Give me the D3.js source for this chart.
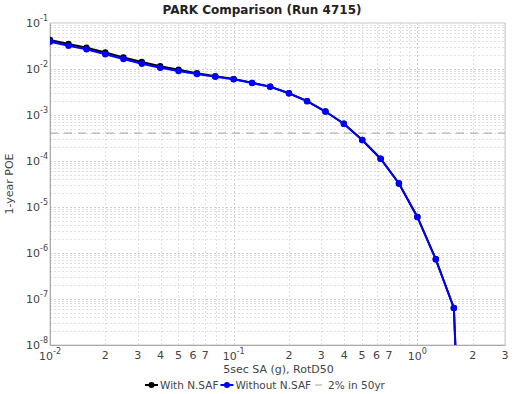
<!DOCTYPE html>
<html><head><meta charset="utf-8">
<script src="https://cdn.jsdelivr.net/npm/d3@7"></script>
<style>
body{margin:0;background:#fff;}
svg text{font-family:"DejaVu Sans",sans-serif;}
</style></head>
<body><svg id="c" width="525" height="394"></svg>
<script>
const title = "PARK Comparison (Run 4715)";
const xLabel = "5sec SA (g), RotD50";
const yLabel = "1-year POE";
const imls = [0.01,0.0126,0.0158,0.02,0.0251,0.0316,0.0398,0.0501,0.0631,0.0794,0.1,0.126,0.158,0.2,0.251,0.316,0.398,0.501,0.631,0.794,1.0,1.26,1.58,2.0];
const withNSAF = [0.0427,0.0349,0.0289,0.0228,0.0179,0.0142,0.0115,0.0096,0.0081,0.0070,0.00603,0.00500,0.00414,0.00297,0.00200,0.00119,0.000644,0.000286,0.000112,3.24e-5,6.07e-6,7.3e-7,6.4e-8,5e-18];
const withoutNSAF = [0.0392,0.0321,0.0268,0.0209,0.0165,0.0130,0.01066,0.00905,0.00778,0.00681,0.00597,0.00497,0.00412,0.00296,0.00200,0.00119,0.000644,0.000286,0.000112,3.24e-5,6.07e-6,7.3e-7,6.4e-8,5e-18];
const refLevel = 1 - Math.pow(0.98, 1/50);
const legendLabels = ["With N.SAF","Without N.SAF","2% in 50yr"];
const xDomain = [0.01, 3];
const yDomain = [1e-8, 1e-1];
const xMajor = [0.01, 0.1, 1];
const xMinorLabels = [2,3,4,5,6,7];
const yMajorExp = [-1,-2,-3,-4,-5,-6,-7,-8];

const svg = d3.select("#c");
const m = {l:50, t:23, r:505, b:345};
const x = d3.scaleLog().domain(xDomain).range([m.l, m.r]);
const y = d3.scaleLog().domain(yDomain).range([m.b, m.t]);

// grid
const g = svg.append("g");
const xGrid = [];
for (let e=-2; e<=0; e++) for (let k=1;k<=9;k++){ const v=k*Math.pow(10,e); if (v>=xDomain[0]&&v<=xDomain[1]) xGrid.push(v); }
const yGrid = [];
for (let e=-8; e<=-2; e++) for (let k=1;k<=9;k++){ const v=k*Math.pow(10,e); if (v>=yDomain[0]&&v<=yDomain[1]) yGrid.push(v); }
const isMajor = d => Math.abs(Math.log10(d) - Math.round(Math.log10(d))) < 1e-9;
g.selectAll(".xg").data(xGrid).join("line")
 .attr("x1",d=>Math.round(x(d))+0.5).attr("x2",d=>Math.round(x(d))+0.5).attr("y1",m.t).attr("y2",m.b)
 .attr("stroke",d=>isMajor(d)?"#d0d0d0":"#e0e0e0").attr("stroke-dasharray","2,2").attr("stroke-width",1);
g.selectAll(".yg").data(yGrid).join("line")
 .attr("y1",d=>Math.round(y(d))+0.5).attr("y2",d=>Math.round(y(d))+0.5).attr("x1",m.l).attr("x2",m.r)
 .attr("stroke",d=>isMajor(d)?"#d0d0d0":"#e0e0e0").attr("stroke-dasharray","2,2").attr("stroke-width",1);

// border
svg.append("rect").attr("x",m.l).attr("y",m.t).attr("width",m.r-m.l).attr("height",m.b-m.t)
 .attr("fill","none").attr("stroke","#c8c8c8").attr("stroke-width",1);

// x axis with library
const xAxis = d3.axisBottom(x).tickValues(xGrid.concat([3])).tickSize(0).tickFormat("");
svg.append("g").attr("transform",`translate(0,${m.b})`).call(xAxis).call(a=>a.select(".domain").attr("stroke","#aaa"));

// x tick labels
const xl = svg.append("g").attr("font-size",11).attr("fill","#444");
xMajor.forEach(v=>{
  const e = Math.round(Math.log10(v));
  const t = xl.append("text").attr("x",x(v)).attr("y",m.b+15).attr("text-anchor","middle").attr("fill","#444");
  t.append("tspan").text("10");
  t.append("tspan").attr("dy",-6).attr("font-size",8).text(String(e));
});
const xMinor = [];
[0.01,0.1,1].forEach(b=>xMinorLabels.forEach(k=>{const v=k*b; if(v<=xDomain[1]+1e-9) xMinor.push([v,k]);}));
xl.selectAll(".xm").data(xMinor).join("text").attr("x",d=>x(d[0])).attr("y",m.b+14).attr("text-anchor","middle").attr("fill","#444").text(d=>d[1]);

// y axis
const yAxis = d3.axisLeft(y).tickValues(yMajorExp.map(e=>Math.pow(10,e))).tickSize(0).tickFormat("");
svg.append("g").attr("transform",`translate(${m.l},0)`).call(yAxis).call(a=>a.select(".domain").attr("stroke","#aaa"));
const yl = svg.append("g").attr("font-size",11);
yMajorExp.forEach(e=>{
  const t = yl.append("text").attr("x",m.l-2).attr("y",y(Math.pow(10,e))+4).attr("text-anchor","end").attr("fill","#444");
  t.append("tspan").text("10");
  t.append("tspan").attr("dy",-6).attr("font-size",8).text(String(e));
});

// clip
svg.append("clipPath").attr("id","clip").append("rect").attr("x",m.l).attr("y",m.t).attr("width",m.r-m.l).attr("height",m.b-m.t);
const plot = svg.append("g").attr("clip-path","url(#clip)");

// ref line
plot.append("line").attr("x1",m.l).attr("x2",m.r).attr("y1",y(refLevel)).attr("y2",y(refLevel))
 .attr("stroke","#a0a0a0").attr("stroke-width",1).attr("stroke-dasharray","8,6");

const line = d3.line().x(d=>x(d[0])).y(d=>y(d[1]));
function series(vals,color){
  const data = imls.map((v,i)=>[v,vals[i]]);
  plot.append("path").datum(data).attr("d",line).attr("fill","none").attr("stroke",color).attr("stroke-width",2);
  plot.selectAll(null).data(data.filter(d=>d[1]>=yDomain[0])).join("circle")
   .attr("cx",d=>x(d[0])).attr("cy",d=>y(d[1])).attr("r",3.2).attr("fill",color);
}
series(withNSAF,"#000");
series(withoutNSAF,"#0000ff");

// title and labels
svg.append("text").attr("x",262).attr("y",14).attr("text-anchor","middle").attr("font-size",12).attr("font-weight","bold").attr("fill","#222").text(title);
svg.append("text").attr("x",(m.l+m.r)/2+1).attr("y",373).attr("text-anchor","middle").attr("font-size",11).attr("fill","#444").text(xLabel);
svg.append("text").attr("transform",`translate(13,${(m.t+m.b)/2}) rotate(-90)`).attr("text-anchor","middle").attr("font-size",11).attr("fill","#444").text(yLabel);

// legend
const lg = svg.append("g").attr("font-size",10.5).attr("fill","#444");
const ly = 385;
const items = [
  {label:legendLabels[0], color:"#000", marker:true},
  {label:legendLabels[1], color:"#0000ff", marker:true},
  {label:legendLabels[2], color:"#a0a0a0", marker:false}
];
let cx = 145;
items.forEach(it=>{
  if (it.marker){
    lg.append("line").attr("x1",cx).attr("x2",cx+13).attr("y1",ly).attr("y2",ly).attr("stroke",it.color).attr("stroke-width",2);
    lg.append("circle").attr("cx",cx+6.5).attr("cy",ly).attr("r",3).attr("fill",it.color);
  } else {
    lg.append("line").attr("x1",cx+2).attr("x2",cx+9).attr("y1",ly).attr("y2",ly).attr("stroke",it.color).attr("stroke-width",1);
  }
  const t = lg.append("text").attr("x",cx+15).attr("y",ly+4).attr("fill","#444").text(it.label);
  cx += 15 + t.node().getComputedTextLength() + 2;
});
</script></body></html>
